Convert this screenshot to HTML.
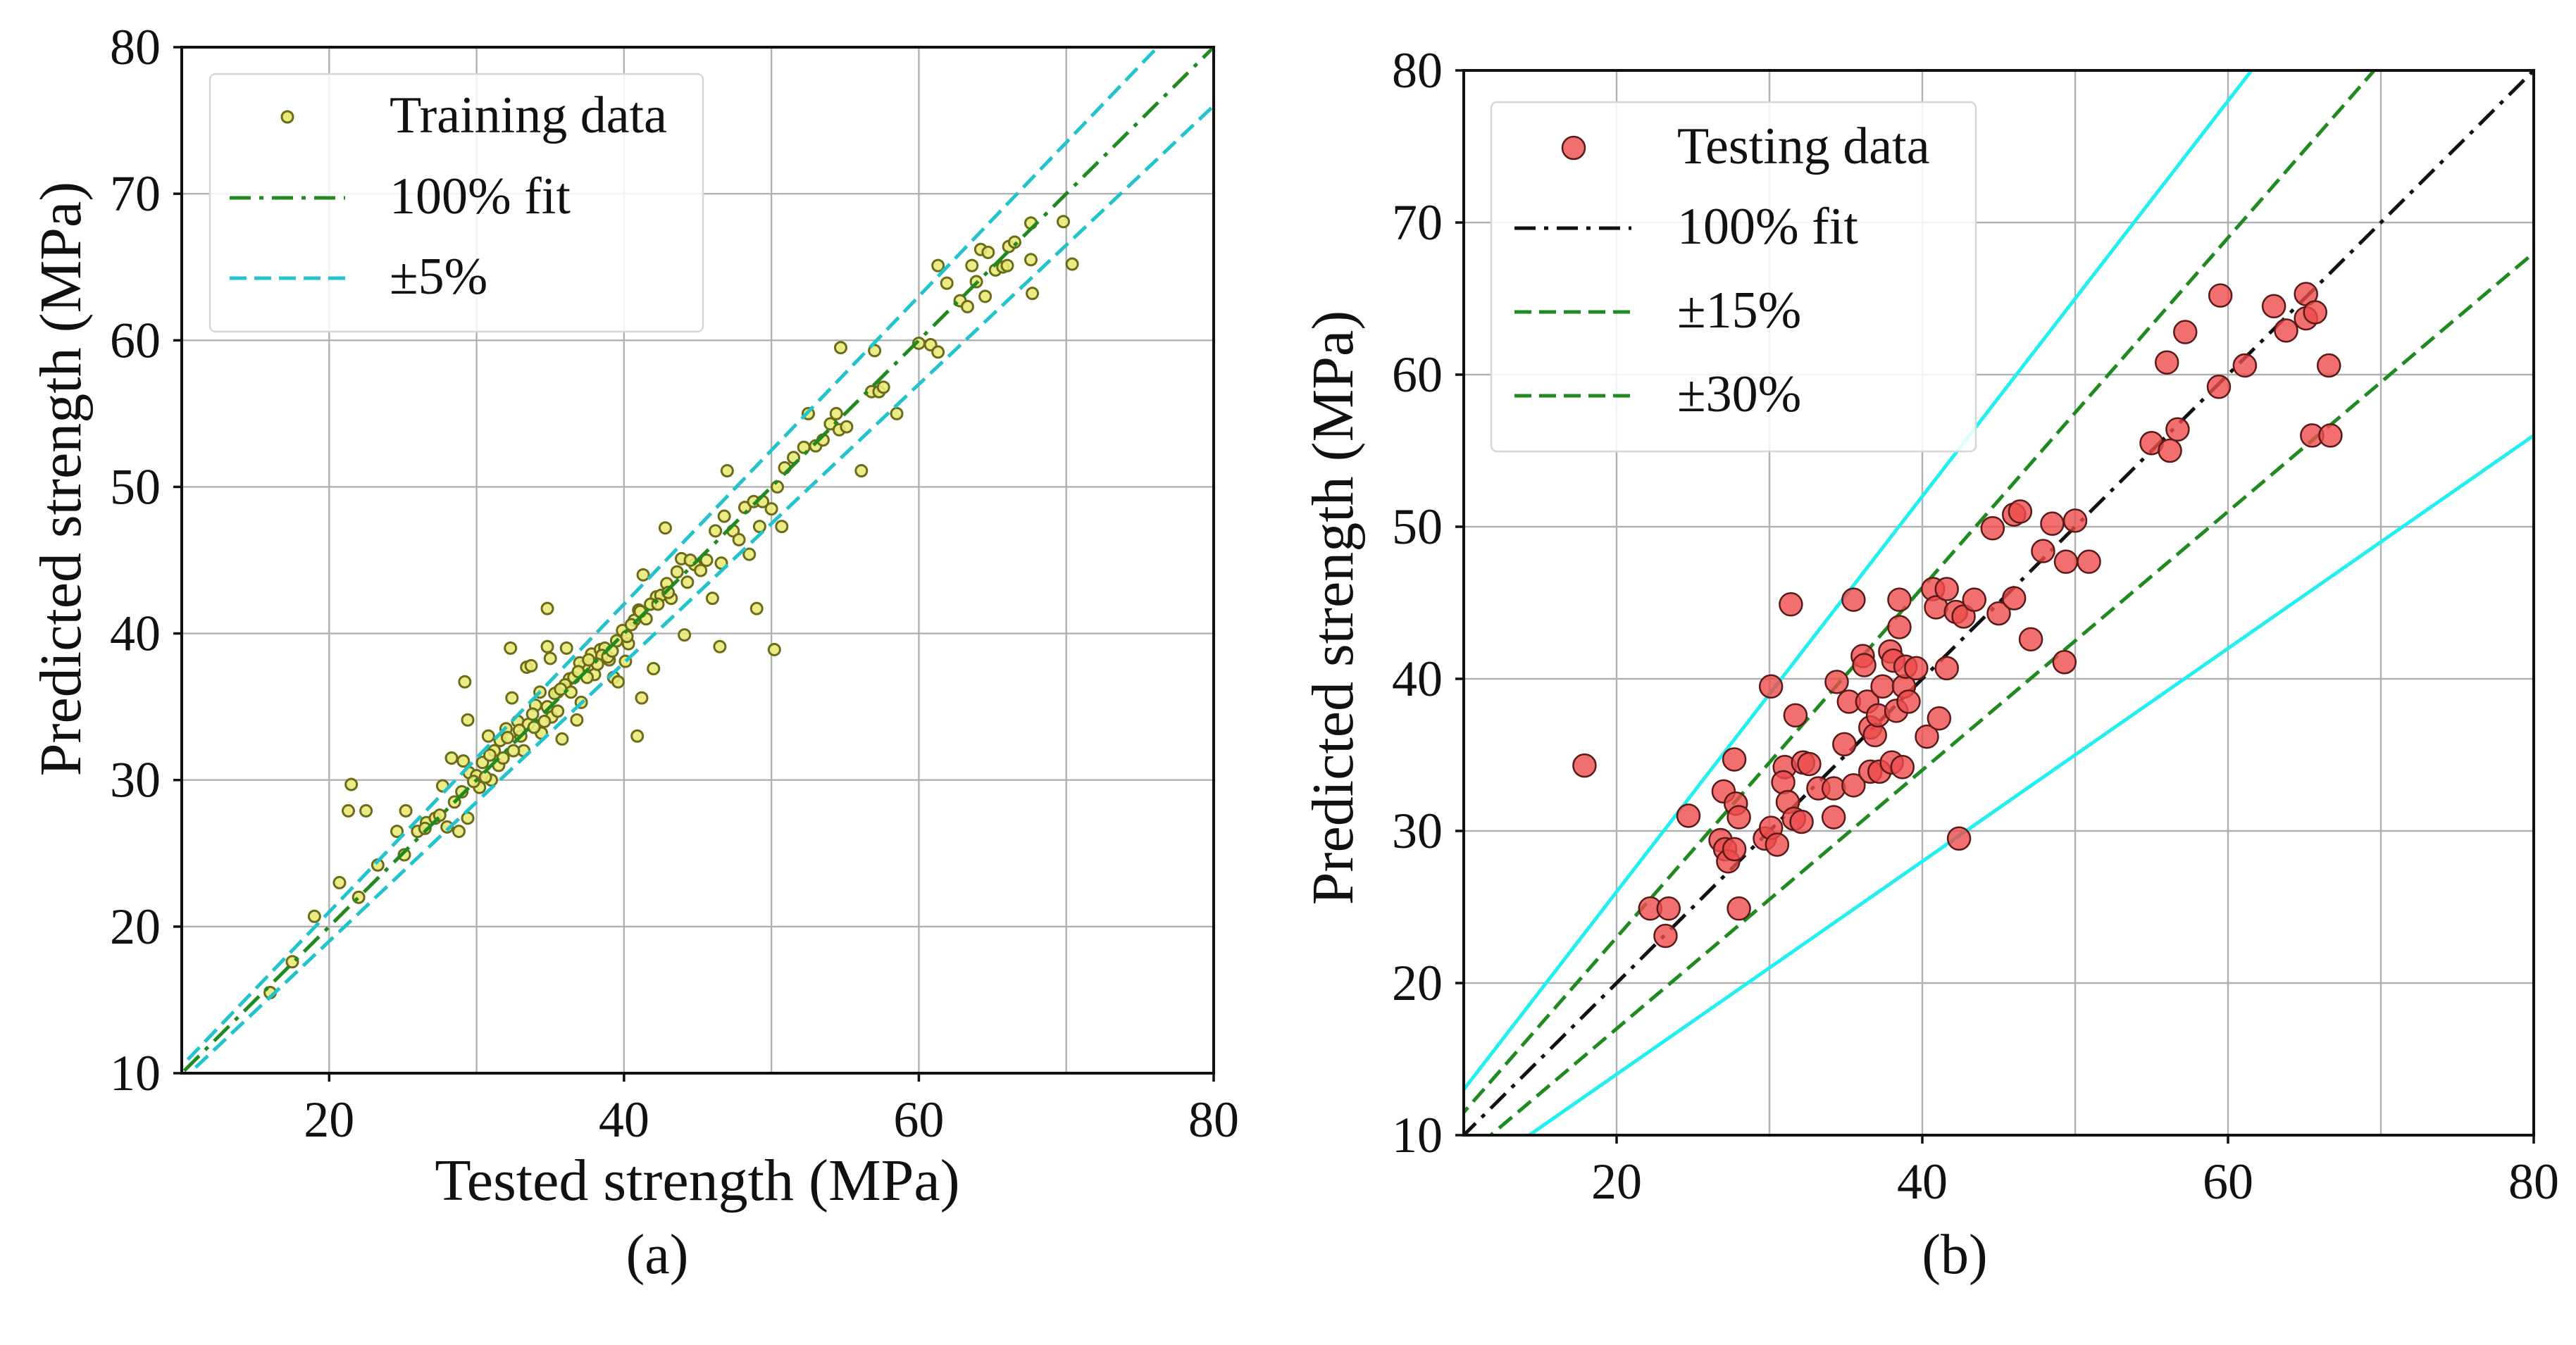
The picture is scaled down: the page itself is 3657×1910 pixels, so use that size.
<!DOCTYPE html>
<html><head><meta charset="utf-8">
<style>
html,body{margin:0;padding:0;background:#fff;}
svg{display:block;}
svg text{font-family:"Liberation Serif","Times New Roman",Times,"Noto Serif CJK SC",serif;}
</style></head>
<body>
<svg id="fig" width="3657" height="1910" viewBox="0 0 3657 1910" xmlns="http://www.w3.org/2000/svg">
<defs>
<clipPath id="clipA"><rect x="258" y="67" width="1465" height="1457"/></clipPath>
<clipPath id="clipB"><rect x="2078" y="100" width="1519" height="1512"/></clipPath>
</defs>
<g id="panelA"></g>
<g id="panelB"></g>
</svg>
<script>
const ticks = [10,20,30,40,50,60,70,80];
const xTickLabels = ["20","40","60","80"];
const xTickVals = [20,40,60,80];
const trainX = [21.5,21.3,22.5,20.7,19.0,16.0,17.5,22.0,23.3,24.6,25.2,25.1,26.0,26.6,27.2,27.7,28.0,28.3,28.8,29.0,29.4,29.2,29.4,29.1,29.5,30.0,30.4,30.8,31.2,31.6,32.0,32.3,32.4,32.8,33.0,33.4,33.7,33.2,34.0,34.3,34.4,34.8,34.8,35.0,35.1,35.5,35.8,36.1,36.3,36.6,36.8,37.1,37.3,37.8,38.0,38.4,38.7,39.0,39.3,39.6,39.9,40.1,40.3,40.7,41.0,41.2,40.9,41.3,41.5,42.0,42.2,42.5,42.8,42.9,43.2,43.6,43.9,44.1,44.3,44.8,45.2,45.6,46.0,46.2,46.5,46.6,46.8,47.0,47.4,47.8,48.2,48.5,48.8,49.0,49.4,49.2,50.0,50.4,50.2,50.7,50.9,51.5,52.2,52.5,53.0,53.5,54.0,54.4,54.7,54.6,55.1,56.1,56.8,57.0,57.3,57.6,58.5,60.0,60.8,61.3,61.3,61.9,62.8,63.3,63.6,63.9,64.2,64.7,64.5,65.2,65.7,66.0,66.1,66.5,67.6,67.6,67.7,69.8,70.4,31.5,30.2,31.0,32.5,33.5,34.8,35.5,36.0,37.5,38.5,39.5,28.5,29.8,33.8,35.3,41.8,43.0,37.0,38.2,40.5,44.5,26.5,27.5,30.6,31.8,32.9,33.9,35.7,36.4,37.6,38.9,40.2,41.1,42.3,30.9,32.1,34.6,36.9,39.2];
const trainY = [29.7,27.9,27.9,23.0,20.7,15.5,17.6,22.0,24.2,26.5,27.9,24.9,26.5,27.1,27.4,29.6,26.8,31.5,26.5,29.2,27.4,36.7,34.1,31.3,30.5,30.3,31.2,33.0,32.0,32.7,33.5,39.0,35.6,34.0,33.0,37.7,37.8,32.0,35.1,36.0,33.2,41.7,39.1,38.3,34.3,34.7,32.8,39.0,36.9,37.0,34.1,35.3,37.8,38.6,37.2,38.9,39.0,38.2,37.0,36.7,40.2,38.1,39.3,40.9,41.6,35.6,33.0,44.0,41.0,37.6,42.5,42.6,47.2,43.4,42.4,44.2,45.1,39.9,43.5,44.7,44.3,45.0,42.4,47.0,39.1,44.8,48.0,51.1,47.0,46.4,48.6,45.4,49.0,41.7,49.0,47.3,48.5,50.0,38.9,47.3,51.3,52.0,52.7,55.0,52.8,53.2,54.3,55.0,59.5,53.9,54.1,51.1,56.5,59.3,56.5,56.8,55.0,59.8,59.7,65.1,59.2,63.9,62.7,62.3,65.1,64.0,66.2,66.0,63.0,64.8,65.0,65.1,66.4,66.7,68.0,65.5,63.2,68.1,65.2,31.0,29.5,30.0,32.0,33.8,35.0,36.0,36.5,37.0,38.5,39.5,28.5,29.9,34.5,35.9,42.0,42.8,38.0,37.9,40.6,45.0,26.7,27.6,30.2,31.5,33.4,33.6,36.2,36.0,38.2,38.4,39.8,41.5,42.0,31.7,32.9,34.0,37.4,38.8];
const testX = [17.9,31.4,35.5,30.1,31.7,22.2,23.4,23.2,24.7,27.7,27.0,27.8,28.0,26.8,27.1,27.3,27.7,28.0,29.7,30.1,30.5,31.0,30.9,31.2,31.6,32.1,32.2,32.6,33.2,34.2,34.2,34.4,34.9,35.2,35.5,36.1,36.2,36.4,36.6,36.9,37.1,36.6,37.2,37.4,37.9,38.1,38.0,38.5,38.5,38.3,38.7,38.8,39.1,38.9,39.6,40.3,40.7,40.9,41.1,41.6,41.6,42.2,42.7,42.4,43.4,45.0,44.6,46.0,46.0,46.4,47.1,47.9,48.5,49.4,49.3,50.0,50.9,55.0,56.2,56.7,56.0,57.2,59.4,59.5,61.1,63.0,63.8,65.1,65.1,65.7,65.5,66.7,66.6];
const testY = [34.3,44.9,45.2,39.5,37.6,24.9,24.9,23.1,31.0,34.7,32.6,31.8,30.9,29.4,28.8,28.0,28.8,24.9,29.5,30.2,29.1,34.2,33.2,31.9,30.8,30.6,34.5,34.4,32.8,32.8,30.9,39.8,35.7,38.5,33.0,41.5,40.9,38.5,36.8,36.3,37.6,33.9,33.9,39.5,41.8,41.2,34.5,43.4,45.2,37.9,34.2,39.5,38.5,40.8,40.7,36.2,45.9,44.7,37.4,45.9,40.7,44.4,44.1,29.5,45.2,44.3,49.9,45.3,50.8,51.0,42.6,48.4,50.2,47.7,41.1,50.4,47.7,55.5,55.0,56.4,60.8,62.8,59.2,65.2,60.6,64.5,62.9,65.3,63.7,64.1,56.0,56.0,60.6];
const ratiosA = [1.05, 0.95];
const ratiosB15 = [1.15, 0.85];
const ratiosB30 = [1.30, 0.70];

const NS = "http://www.w3.org/2000/svg";
const FF = "'Liberation Serif', 'Times New Roman', Times, 'Noto Serif CJK SC', serif";
function mk(parent, tag, attrs, text){
  const e = document.createElementNS(NS, tag);
  for (const k in attrs) e.setAttribute(k, attrs[k]);
  if (tag === 'text') e.style.fontFamily = FF;
  if (text !== undefined) e.textContent = text;
  parent.appendChild(e);
  return e;
}
function makeAxes(L,T,R,B){
  return {sx: v => L + (v-10)/70*(R-L), sy: v => B - (v-10)/70*(B-T), L,T,R,B};
}
function drawFrame(g, ax){
  for (const t of ticks){
    const gx = mk(g,'line',{x1:ax.sx(t),x2:ax.sx(t),y1:ax.T,y2:ax.B,stroke:'#b0b0b0','stroke-width':2.4});
    
    
    const gy = mk(g,'line',{x1:ax.L,x2:ax.R,y1:ax.sy(t),y2:ax.sy(t),stroke:'#b0b0b0','stroke-width':2.4});
    
    
  }
}
function drawAxesTop(g, ax, yLabX, xLabY){
  const fr = mk(g,'rect',{x:ax.L,y:ax.T,width:ax.R-ax.L,height:ax.B-ax.T,fill:'none',stroke:'#111','stroke-width':4});
  
  
  for (const t of ticks){
    mk(g,'line',{x1:ax.L-12,x2:ax.L,y1:ax.sy(t),y2:ax.sy(t),stroke:'#111','stroke-width':3.5});
    const yl = mk(g,'text',{x:yLabX,y:ax.sy(t)+24,'text-anchor':'end','font-size':72,fill:'#111'}, String(t));
    
    
  }
  for (let i=0;i<xTickVals.length;i++){
    const t = xTickVals[i];
    mk(g,'line',{x1:ax.sx(t),x2:ax.sx(t),y1:ax.B,y2:ax.B+12,stroke:'#111','stroke-width':3.5});
    const xl = mk(g,'text',{x:ax.sx(t),y:xLabY,'text-anchor':'middle','font-size':72,fill:'#111'}, xTickLabels[i]);
    
    
  }
}
function refLine(g, ax, ratio, color, dash, w, name){
  const l = mk(g,'line',{x1:ax.sx(0),y1:ax.sy(0),x2:ax.sx(100),y2:ax.sy(100*ratio),stroke:color,'stroke-width':w,'stroke-dasharray':dash});
  
  
}

// Panel A
const gA = document.getElementById('panelA');
const A = makeAxes(258,67,1723,1524);
drawFrame(gA, A);
const cA = mk(gA,'g',{'clip-path':'url(#clipA)'});
for (let i=0;i<trainX.length;i++){
  const c = mk(cA,'circle',{cx:A.sx(trainX[i]),cy:A.sy(trainY[i]),r:8,fill:'#eaea7a',stroke:'#6b6b1a','stroke-width':3,'fill-opacity':0.9});
  
  
}
refLine(cA, A, 1, '#1f8a1f', '30 12 6 12', 5, 'fit-line-100');
for (const r of ratiosA) refLine(cA, A, r, '#22c3cc', '24 11', 5, 'band-5-percent');
drawAxesTop(gA, A, 228, 1614);
const legA = mk(gA,'g',{});


mk(legA,'rect',{x:298,y:105,width:700,height:366,rx:8,fill:'#fff','fill-opacity':0.85,stroke:'#d6d6d6','stroke-width':2.5});
mk(legA,'circle',{cx:408,cy:166,r:8,fill:'#eaea7a',stroke:'#6b6b1a','stroke-width':3});
mk(legA,'text',{x:553,y:188,'font-size':74,fill:'#111'},'Training data');
mk(legA,'line',{x1:326,x2:490,y1:281,y2:281,stroke:'#1f8a1f','stroke-width':5,'stroke-dasharray':'30 12 6 12'});
mk(legA,'text',{x:553,y:303,'font-size':74,fill:'#111'},'100% fit');
mk(legA,'line',{x1:326,x2:490,y1:395,y2:395,stroke:'#22c3cc','stroke-width':5,'stroke-dasharray':'24 11'});
mk(legA,'text',{x:553,y:417,'font-size':74,fill:'#111'},'±5%');
const xtA = mk(gA,'text',{x:990,y:1704,'text-anchor':'middle','font-size':84,fill:'#111'},'Tested strength (MPa)');


const ytA = mk(gA,'text',{x:0,y:0,'text-anchor':'middle','font-size':84,fill:'#111',transform:'translate(114,680) rotate(-90)'},'Predicted strength (MPa)');


const capA = mk(gA,'text',{x:933,y:1808,'text-anchor':'middle','font-size':80,fill:'#111'},'(a)');



// Panel B
const gB = document.getElementById('panelB');
const B = makeAxes(2078,100,3597,1612);
drawFrame(gB, B);
const cB = mk(gB,'g',{'clip-path':'url(#clipB)'});
for (const r of ratiosB30) refLine(cB, B, r, '#22f0f0', 'none', 5, 'band-30-percent');
for (const r of ratiosB15) refLine(cB, B, r, '#1f8a1f', '24 11', 5, 'band-15-percent');
refLine(cB, B, 1, '#111', '30 12 6 12', 5, 'fit-line-100');
for (let i=0;i<testX.length;i++){
  const c = mk(cB,'circle',{cx:B.sx(testX[i]),cy:B.sy(testY[i]),r:16,fill:'#ee4b4b','fill-opacity':0.8,stroke:'#5a1a1a','stroke-width':2.5});
  
  
}
drawAxesTop(gB, B, 2048, 1702);
const legB = mk(gB,'g',{});


mk(legB,'rect',{x:2117,y:145,width:688,height:496,rx:8,fill:'#fff','fill-opacity':0.85,stroke:'#d6d6d6','stroke-width':2.5});
mk(legB,'circle',{cx:2234,cy:210,r:16,fill:'#ee4b4b','fill-opacity':0.8,stroke:'#5a1a1a','stroke-width':2.5});
mk(legB,'text',{x:2381,y:232,'font-size':74,fill:'#111'},'Testing data');
mk(legB,'line',{x1:2150,x2:2316,y1:324,y2:324,stroke:'#111','stroke-width':5,'stroke-dasharray':'30 12 6 12'});
mk(legB,'text',{x:2381,y:346,'font-size':74,fill:'#111'},'100% fit');
mk(legB,'line',{x1:2150,x2:2316,y1:443,y2:443,stroke:'#1f8a1f','stroke-width':5,'stroke-dasharray':'24 11'});
mk(legB,'text',{x:2381,y:465,'font-size':74,fill:'#111'},'±15%');
mk(legB,'line',{x1:2150,x2:2316,y1:562,y2:562,stroke:'#1f8a1f','stroke-width':5,'stroke-dasharray':'24 11'});
mk(legB,'text',{x:2381,y:584,'font-size':74,fill:'#111'},'±30%');
const ytB = mk(gB,'text',{x:0,y:0,'text-anchor':'middle','font-size':84,fill:'#111',transform:'translate(1920,863) rotate(-90)'},'Predicted strength (MPa)');


const capB = mk(gB,'text',{x:2775,y:1808,'text-anchor':'middle','font-size':80,fill:'#111'},'(b)');


</script>
</body></html>
